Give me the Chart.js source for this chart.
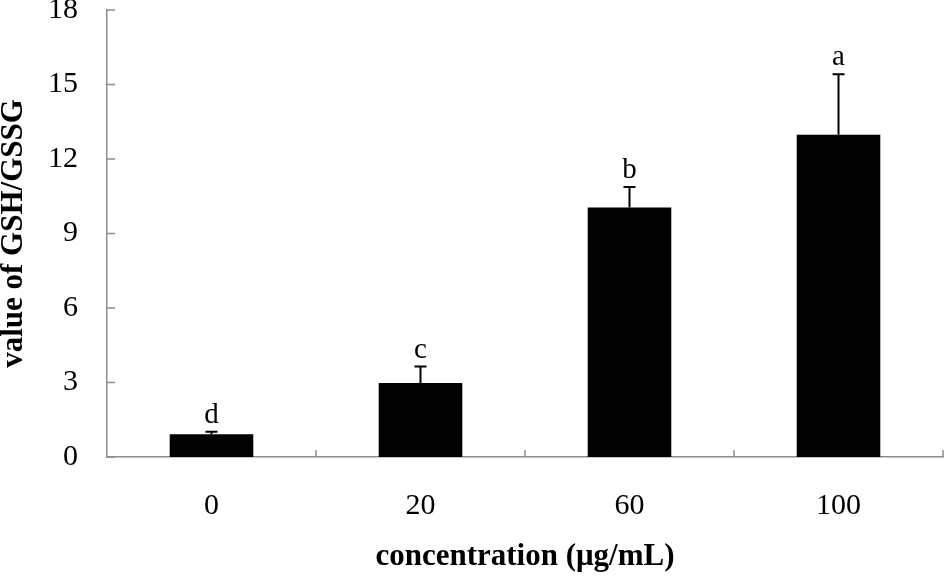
<!DOCTYPE html>
<html>
<head>
<meta charset="utf-8">
<script src="https://cdn.jsdelivr.net/npm/chart.js@4/dist/chart.umd.min.js"></script>
<style>
  html, body { margin: 0; padding: 0; background: #fff; }
  #wrap { width: 944px; height: 577px; position: relative; }
</style>
</head>
<body>
<div id="wrap"><canvas id="c"></canvas></div>
<script>
const categories = ['0', '20', '60', '100'];
const means = [0.92, 2.98, 10.05, 12.98];
const errors = [0.1, 0.66, 0.82, 2.43];
const letters = ['d', 'c', 'b', 'a'];
const yTicks = [0, 3, 6, 9, 12, 15, 18];
const xTitle = 'concentration (μg/mL)';
const yTitle = 'value of GSH/GSSG';

const SERIF = '"Liberation Serif", "Times New Roman", serif';
const AXIS_COLOR = '#8c8c8c';

const decorPlugin = {
  id: 'decor',
  afterDatasetsDraw(chart) {
    const ctx = chart.ctx;
    const xs = chart.scales.x, ys = chart.scales.y;
    const meta = chart.getDatasetMeta(0);
    const area = chart.chartArea;
    ctx.save();
    // inward ticks on y axis
    ctx.strokeStyle = AXIS_COLOR;
    ctx.lineWidth = 1.5;
    yTicks.forEach(v => {
      const py = ys.getPixelForValue(v);
      ctx.beginPath();
      ctx.moveTo(area.left, py);
      ctx.lineTo(area.left + 8, py);
      ctx.stroke();
    });
    // category boundary ticks on x axis
    for (let i = 0; i < categories.length; i++) {
      let px;
      if (i < categories.length - 1) {
        px = (xs.getPixelForValue(i) + xs.getPixelForValue(i + 1)) / 2;
      } else {
        px = area.right;
      }
      ctx.beginPath();
      ctx.moveTo(px, area.bottom);
      ctx.lineTo(px, area.bottom - 7);
      ctx.stroke();
    }
    // error bars + letters
    ctx.strokeStyle = '#000';
    ctx.fillStyle = '#000';
    ctx.lineWidth = 2;
    ctx.font = '29px ' + SERIF;
    ctx.textAlign = 'center';
    ctx.textBaseline = 'alphabetic';
    meta.data.forEach((bar, i) => {
      const x = bar.x;
      const yb = ys.getPixelForValue(means[i]);
      const yt = ys.getPixelForValue(means[i] + errors[i]);
      ctx.beginPath();
      ctx.moveTo(x, yb);
      ctx.lineTo(x, yt);
      ctx.moveTo(x - 6, yt);
      ctx.lineTo(x + 6, yt);
      ctx.stroke();
      ctx.fillText(letters[i], x, yt - 9);
    });
    ctx.restore();
  }
};

new Chart(document.getElementById('c'), {
  type: 'bar',
  data: {
    labels: categories,
    datasets: [{
      data: means,
      backgroundColor: '#000',
      borderWidth: 0,
      categoryPercentage: 1.0,
      barPercentage: 0.4
    }]
  },
  options: {
    responsive: true,
    maintainAspectRatio: false,
    devicePixelRatio: 1,
    animation: false,
    layout: { padding: { left: 0, right: 1, top: 10, bottom: 0 } },
    plugins: { legend: { display: false }, tooltip: { enabled: false } },
    scales: {
      x: {
        grid: { display: false, drawTicks: false },
        border: { display: true, color: AXIS_COLOR, width: 1.5 },
        ticks: {
          color: '#000',
          font: { family: SERIF, size: 30, lineHeight: 1.2 },
          padding: 31
        },
        title: {
          display: true,
          text: xTitle,
          color: '#000',
          font: { family: SERIF, size: 31, weight: 'bold', lineHeight: 1.2 },
          padding: { top: 0, bottom: 1 }
        },
        afterFit(scale) {
          scale.height = 120;
          scale.paddingLeft = 0;
          scale.paddingRight = 0;
        }
      },
      y: {
        min: 0,
        max: 18,
        afterBuildTicks(scale) {
          scale.ticks = yTicks.map(v => ({ value: v }));
        },
        grid: { display: false, drawTicks: false },
        border: { display: true, color: AXIS_COLOR, width: 1.5 },
        ticks: {
          color: '#000',
          font: { family: SERIF, size: 30, lineHeight: 1.2 },
          padding: 29
        },
        title: {
          display: true,
          text: yTitle,
          color: '#000',
          font: { family: SERIF, size: 31, weight: 'bold', lineHeight: 0.9 },
          padding: { top: 0, bottom: 0 }
        },
        afterFit(scale) {
          scale.width = 107;
          scale.paddingTop = 0;
          scale.paddingBottom = 0;
        }
      }
    }
  },
  plugins: [decorPlugin]
});
</script>
</body>
</html>
